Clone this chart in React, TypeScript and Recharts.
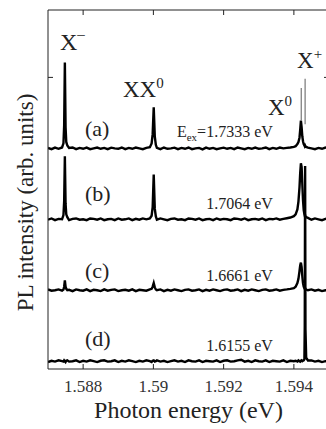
import { LineChart, Line, XAxis, YAxis, ReferenceDot, ReferenceLine } from 'recharts'

const serif = "'Liberation Serif', 'Times New Roman', serif"

// photon energy (eV), 0.1 meV steps with denser sampling around the lines
const energy = [
  1.587, 1.5871, 1.5872, 1.5873, 1.5874,
  1.58744, 1.58746, 1.58748, 1.5875, 1.58752, 1.58755,
  1.5876, 1.5877, 1.5878, 1.5879, 1.588, 1.5881, 1.5882, 1.5883, 1.5884, 1.5885, 1.5886, 1.5887,
  1.5888, 1.5889, 1.589, 1.5891, 1.5892, 1.5893, 1.5894, 1.5895, 1.5896, 1.5897, 1.5898, 1.5899,
  1.58995, 1.58998, 1.59001, 1.59004, 1.59007,
  1.5901, 1.5902, 1.5903, 1.5904, 1.5905, 1.5906, 1.5907, 1.5908, 1.5909, 1.591,
  1.5911, 1.5912, 1.5913, 1.5914, 1.5915, 1.5916, 1.5917, 1.5918, 1.5919, 1.592,
  1.5921, 1.5922, 1.5923, 1.5924, 1.5925, 1.5926, 1.5927, 1.5928, 1.5929, 1.593,
  1.5931, 1.5932, 1.5933, 1.5934, 1.5935, 1.5936, 1.5937, 1.5938, 1.5939, 1.594,
  1.59405, 1.5941, 1.59413, 1.59416, 1.59418, 1.5942, 1.59422, 1.59424,
  1.59426, 1.59428, 1.5943, 1.59431, 1.59432, 1.59433, 1.59435, 1.5944,
  1.5945, 1.5946, 1.5947, 1.5948, 1.5949, 1.595,
]

// (a) Eex = 1.7333 eV
const specA = [
  0.006, -0.012, 0.01, -0.006, 0.012,
  0.07, 0.32, 1.21, 0.3, 0.09, 0.04,
  0.006, 0.012, -0.012, 0.006, -0.006, 0.01, -0.012, 0.0, 0.012, -0.006, 0.006, -0.012,
  0.01, 0.0, -0.006, 0.012, -0.012, 0.006, -0.006, 0.012, 0.0, -0.012, 0.006, 0.015,
  0.07, 0.2, 0.58, 0.17, 0.05,
  0.006, -0.012, 0.012, -0.006, 0.0, 0.01, -0.012, 0.006, -0.006, 0.012,
  -0.012, 0.0, 0.006, -0.014, 0.01, -0.006, 0.006, -0.012, 0.0, 0.01,
  -0.006, 0.006, -0.012, 0.012, 0.0, -0.012, 0.006, -0.006, 0.012, -0.006,
  0.0, 0.012, -0.012, 0.006, -0.006, 0.012, 0.0, 0.006, 0.012, 0.02,
  0.03, 0.06, 0.09, 0.15, 0.26, 0.39, 0.3, 0.17,
  0.1, 0.06, 0.04, 0.03, 0.04, 0.03, 0.02, 0.01,
  0.0, -0.012, 0.006, -0.006, 0.012, 0.0,
]

// (b) Eex = 1.7064 eV
const specB = [
  -0.006, 0.012, -0.012, 0.006, 0.0,
  0.06, 0.25, 0.89, 0.22, 0.07, 0.03,
  -0.012, 0.006, 0.012, -0.006, 0.0, -0.012, 0.012, 0.006, -0.006, 0.012, -0.012, 0.0,
  0.006, -0.012, 0.012, -0.006, 0.0, 0.012, -0.012, 0.006, -0.006, 0.012, 0.0, 0.012,
  0.05, 0.17, 0.63, 0.15, 0.04,
  -0.006, 0.012, 0.0, -0.012, 0.006, 0.012, -0.006, 0.0, -0.012, 0.012,
  0.006, -0.006, 0.012, -0.012, 0.0, 0.006, -0.012, 0.012, -0.006, 0.006,
  0.0, -0.012, 0.012, 0.006, -0.006, 0.012, -0.012, 0.0, 0.006, -0.006,
  0.012, -0.012, 0.006, 0.0, 0.012, -0.006, 0.006, 0.015, 0.025, 0.045,
  0.07, 0.14, 0.25, 0.45, 0.65, 0.79, 0.74, 0.5,
  0.27, 0.13, 0.07, 0.05, 0.06, 0.04, 0.03, 0.02,
  -0.006, 0.012, 0.0, -0.012, 0.006, 0.012,
]

// (c) Eex = 1.6661 eV
const specC = [
  0.012, -0.006, 0.0, 0.012, -0.006,
  0.01, 0.05, 0.14, 0.05, 0.02, 0.0,
  0.006, -0.012, 0.012, 0.0, -0.006, 0.012, -0.012, 0.006, 0.0, -0.012, 0.012, -0.006,
  0.006, 0.012, -0.012, 0.0, 0.006, -0.006, 0.012, -0.012, 0.006, 0.0, -0.006, 0.012,
  0.02, 0.05, 0.1, 0.04, 0.01,
  0.0, 0.012, -0.012, 0.006, -0.006, 0.012, 0.0, -0.012, 0.006, 0.012,
  -0.006, 0.0, 0.012, -0.012, 0.006, -0.006, 0.012, 0.0, -0.012, 0.006,
  0.012, -0.006, 0.0, 0.012, -0.012, 0.006, -0.006, 0.012, 0.0, -0.012,
  0.006, 0.012, -0.006, 0.0, 0.012, -0.006, 0.006, 0.012, 0.02, 0.03,
  0.05, 0.1, 0.16, 0.27, 0.35, 0.39, 0.33, 0.2,
  0.1, 0.05, 0.03, 0.02, 0.03, 0.02, 0.01, 0.0,
  0.012, -0.006, 0.006, -0.012, 0.0, 0.006,
]

// (d) Eex = 1.6155 eV
const specD = [
  -0.012, 0.006, -0.006, 0.012, 0.0,
  -0.006, 0.012, 0.0, -0.012, 0.006, 0.012,
  -0.006, 0.0, 0.012, -0.012, 0.006, -0.006, 0.012, 0.0, -0.012, 0.006, 0.012, -0.006,
  0.0, 0.012, -0.012, 0.006, -0.006, 0.012, 0.0, -0.012, 0.006, -0.006, 0.012, 0.0,
  -0.012, 0.006, 0.012, -0.006, 0.0,
  0.012, -0.006, 0.006, -0.012, 0.0, 0.012, -0.006, 0.006, -0.012, 0.012,
  0.0, -0.006, 0.012, -0.012, 0.006, 0.0, -0.006, 0.012, -0.012, 0.006,
  0.012, -0.006, 0.0, 0.012, 0.02, -0.006, 0.006, -0.012, 0.012, 0.0,
  -0.006, 0.012, -0.012, 0.006, 0.0, -0.006, 0.012, -0.012, 0.006, 0.0,
  0.006, -0.006, 0.012, 0.0, -0.006, 0.006, 0.012, 0.0,
  0.006, 0.012, 0.03, 0.5, 2.75, 0.45, 0.05, 0.01,
  0.012, -0.006, 0.006, -0.012, 0.0, 0.006,
]

const offsets = [3, 2, 1, 0]
const xTicks = [1.588, 1.59, 1.592, 1.594]
const yTicks = [4]
const peakX0 = 1.59421
const peakXplus = 1.59432

const rows = energy.map((e, i) => ({
  e,
  a: specA[i] + offsets[0],
  b: specB[i] + offsets[1],
  c: specC[i] + offsets[2],
  d: specD[i] + offsets[3],
}))

const ink = '#222'
const textStyle = { fontFamily: serif }

// eslint-disable-next-line @typescript-eslint/no-explicit-any
const BottomTick = ({ x, y, payload }: any) => (
  <g>
    <line x1={x} x2={x} y1={y} y2={y - 5} stroke={ink} />
    <text x={x} y={y + 23} textAnchor="middle" fontSize={17} style={textStyle} fill="#333">
      {String(Number(payload.value.toFixed(3)))}
    </text>
  </g>
)
// eslint-disable-next-line @typescript-eslint/no-explicit-any
const TopTick = ({ x, y }: any) => <line x1={x} x2={x} y1={y} y2={y + 5} stroke={ink} />
// eslint-disable-next-line @typescript-eslint/no-explicit-any
const LeftTick = ({ x, y }: any) => <line x1={x} x2={x + 5} y1={y} y2={y} stroke={ink} />
// eslint-disable-next-line @typescript-eslint/no-explicit-any
const RightTick = ({ x, y }: any) => <line x1={x} x2={x - 5} y1={y} y2={y} stroke={ink} />

// text placed at a data coordinate
// eslint-disable-next-line @typescript-eslint/no-explicit-any
const note = (content: React.ReactNode, size = 22, anchor = 'start', angle = 0) => (p: any) => (
  <text
    x={p.cx} y={p.cy} fontSize={size} style={textStyle} fill="#222" textAnchor={anchor}
    transform={angle ? `rotate(${angle}, ${p.cx}, ${p.cy})` : undefined}
  >
    {content}
  </text>
)

export default function App() {
  const lineProps = {
    xAxisId: 'bottom',
    yAxisId: 'left',
    type: 'linear' as const,
    stroke: '#000',
    strokeWidth: 2.4,
    dot: false,
    isAnimationActive: false,
  }
  const at = { xAxisId: 'bottom', yAxisId: 'left', r: 0, ifOverflow: 'visible' as const }
  return (
    <div style={{ position: 'absolute', left: 0, top: 0, width: 326, height: 429, overflow: 'hidden', background: '#fff', fontFamily: serif }}>
      <LineChart width={331} height={429} data={rows} margin={{ top: 0, right: 0, bottom: 0, left: 0 }}>
        <XAxis
          xAxisId="bottom" dataKey="e" type="number" domain={[1.587, 1.595]} ticks={xTicks}
          height={60} tickSize={0} tickMargin={0} tickLine={false} stroke={ink} tick={BottomTick}
          allowDataOverflow
        />
        <XAxis
          xAxisId="top" orientation="top" dataKey="e" type="number" domain={[1.587, 1.595]} ticks={xTicks}
          height={10} tickSize={0} tickMargin={0} tickLine={false} stroke={ink} tick={TopTick}
          allowDataOverflow
        />
        <YAxis
          yAxisId="left" type="number" domain={[-0.11, 4.95]} ticks={yTicks}
          width={48} tickSize={0} tickMargin={0} tickLine={false} stroke={ink} tick={LeftTick}
          allowDataOverflow
        />
        <YAxis
          yAxisId="right" orientation="right" type="number" domain={[-0.11, 4.95]} ticks={yTicks}
          width={2} tickSize={0} tickMargin={0} tickLine={false} stroke={ink} tick={RightTick}
          allowDataOverflow
        />

        <Line {...lineProps} dataKey="a" />
        <Line {...lineProps} dataKey="b" />
        <Line {...lineProps} dataKey="c" />
        <Line {...lineProps} dataKey="d" />

        <ReferenceLine xAxisId="bottom" yAxisId="left" segment={[{ x: peakX0, y: 3.4 }, { x: peakX0, y: 3.85 }]} stroke="#777" strokeWidth={1.2} />
        <ReferenceLine xAxisId="bottom" yAxisId="left" segment={[{ x: peakXplus, y: 3.34 }, { x: peakXplus, y: 3.98 }]} stroke="#777" strokeWidth={1.2} />

        {/* axis titles */}
        <ReferenceDot {...at} x={1.591} y={-0.8} shape={note('Photon energy (eV)', 24, 'middle')} />
        <ReferenceDot {...at} x={1.58657} y={2.237} shape={note('PL intensity (arb. units)', 23, 'middle', -90)} />

        <ReferenceDot {...at} x={1.58734} y={4.386}
          shape={note(<><tspan>X</tspan><tspan dy={-11} fontSize={15}>–</tspan></>, 24)} />
        <ReferenceDot {...at} x={1.589135} y={3.724}
          shape={note(<><tspan>XX</tspan><tspan dy={-9} fontSize={15}>0</tspan></>, 23)} />
        <ReferenceDot {...at} x={1.593263} y={3.47}
          shape={note(<><tspan>X</tspan><tspan dy={-9} fontSize={15}>0</tspan></>, 23)} />
        <ReferenceDot {...at} x={1.594089} y={4.133}
          shape={note(<><tspan>X</tspan><tspan dy={-9} fontSize={15}>+</tspan></>, 23)} />

        <ReferenceDot {...at} x={1.588053} y={3.174} shape={note('(a)', 22)} />
        <ReferenceDot {...at} x={1.588053} y={2.258} shape={note('(b)', 22)} />
        <ReferenceDot {...at} x={1.588053} y={1.173} shape={note('(c)', 22)} />
        <ReferenceDot {...at} x={1.588053} y={0.214} shape={note('(d)', 22)} />

        <ReferenceDot {...at} x={1.5934} y={3.16}
          shape={note(<><tspan>E</tspan><tspan dy={4} fontSize={11}>ex</tspan><tspan dy={-4}>=1.7333 eV</tspan></>, 16, 'end')} />
        <ReferenceDot {...at} x={1.5934} y={2.145} shape={note('1.7064 eV', 16, 'end')} />
        <ReferenceDot {...at} x={1.5934} y={1.13} shape={note('1.6661 eV', 16, 'end')} />
        <ReferenceDot {...at} x={1.5934} y={0.144} shape={note('1.6155 eV', 16, 'end')} />
      </LineChart>
    </div>
  )
}
